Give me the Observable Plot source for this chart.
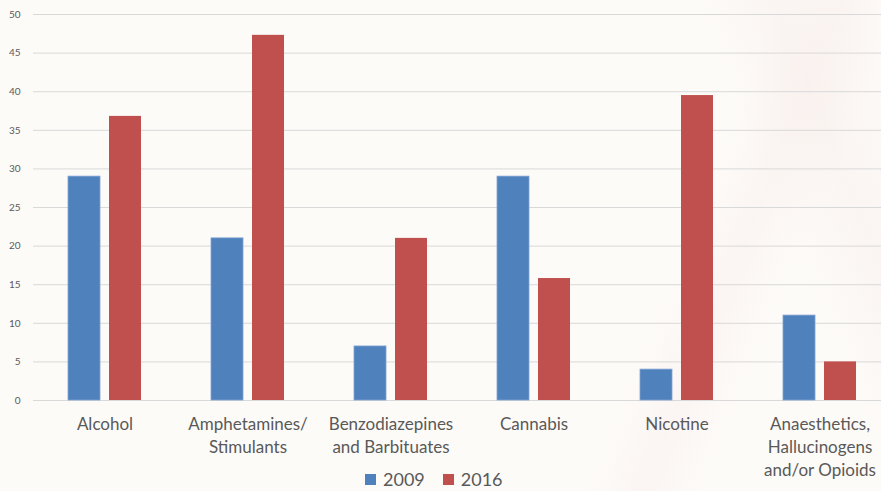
<!DOCTYPE html>
<html>
<head>
<meta charset="utf-8">
<script src="https://cdn.jsdelivr.net/npm/d3@7"></script>
<script src="https://cdn.jsdelivr.net/npm/@observablehq/plot@0.6"></script>
<style>
  html, body { margin: 0; padding: 0; }
  body {
    position: relative;
    width: 881px; height: 491px; overflow: hidden;
    background:
      linear-gradient(112deg, rgba(255,255,255,0) 0%, rgba(255,255,255,0) 72%, rgba(246,232,230,0.30) 78%, rgba(255,255,255,0) 84%),
      linear-gradient(68deg, rgba(255,255,255,0) 82%, rgba(242,228,225,0.25) 90%, rgba(255,255,255,0) 100%),
      #fdfbf8;
    font-family: Lato, "Open Sans", sans-serif;
  }
  #chart svg { display: block; background: transparent; }
  #legend {
    position: absolute; left: 365px; top: 464px;
    height: 30px; display: flex; align-items: center;
    font-size: 18px; color: #595959;
  }
  #legend .item { display: flex; align-items: center; margin-right: 18px; }
  #legend .sw { width: 11px; height: 11px; margin-right: 7px; }
</style>
</head>
<body>
<div id="chart"></div>
<div id="legend"></div>
<script>
const categories = [
  "Alcohol",
  "Amphetamines/\nStimulants",
  "Benzodiazepines\nand Barbituates",
  "Cannabis",
  "Nicotine",
  "Anaesthetics,\nHallucinogens\nand/or Opioids"
];
const years = ["2009", "2016"];
const values2009 = [29, 21, 7, 29, 4, 11];
const values2016 = [36.8, 47.3, 21, 15.8, 39.5, 5];
const yTicks = [0, 5, 10, 15, 20, 25, 30, 35, 40, 45, 50];
const colors = ["#4f81bd", "#c0504d"];

const data = [];
categories.forEach((c, i) => {
  data.push({category: c, year: "2009", value: values2009[i]});
  data.push({category: c, year: "2016", value: values2016[i]});
});

const plot = Plot.plot({
  width: 881,
  height: 491,
  marginTop: 14,
  marginBottom: 91,
  marginLeft: 33,
  marginRight: 0,
  style: {background: "transparent", fontFamily: "Lato, 'Open Sans', sans-serif"},
  x: {domain: categories, range: [32.5, 890.5], padding: 0, label: null},
  y: {domain: [0, 50], label: null},
  color: {domain: years, range: colors},
  marks: [
    Plot.ruleY(yTicks, {stroke: "#d9d9d9", strokeWidth: 1}),
    Plot.barY(data.filter(d => d.year === "2009"), {
      x: "category", y: "value", fill: "year",
      insetLeft: 55.5, insetRight: 55.5, dx: -20.5,
      stroke: "#7fa3d3", strokeWidth: 0.8
    }),
    Plot.barY(data.filter(d => d.year === "2016"), {
      x: "category", y: "value", fill: "year",
      insetLeft: 55.5, insetRight: 55.5, dx: 20.5
    }),
    Plot.axisY({ticks: yTicks, tickSize: 0, tickPadding: 13, fontSize: 10, color: "#595959", label: null}),
    Plot.axisX({tickSize: 0, tickPadding: 13, fontSize: 17, color: "#595959", lineHeight: 1.35, label: null})
  ]
});
document.getElementById("chart").appendChild(plot);

const legend = document.getElementById("legend");
years.forEach((y, i) => {
  const item = document.createElement("div");
  item.className = "item";
  const sw = document.createElement("div");
  sw.className = "sw";
  sw.style.background = colors[i];
  const t = document.createElement("span");
  t.textContent = y;
  item.appendChild(sw);
  item.appendChild(t);
  legend.appendChild(item);
});
</script>
</body>
</html>
